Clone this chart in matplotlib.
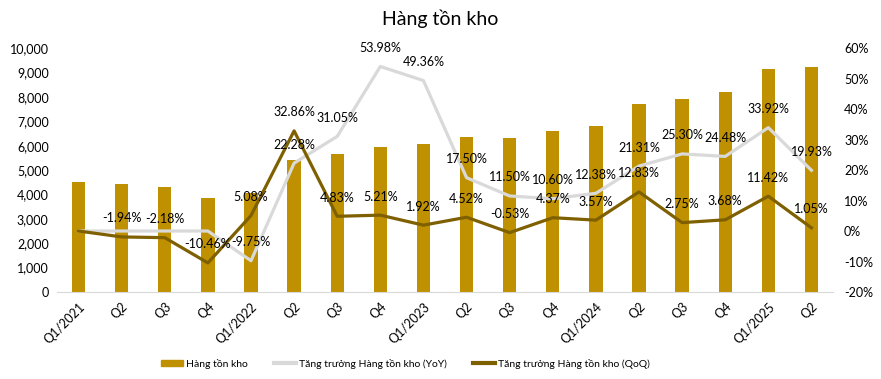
import matplotlib
matplotlib.use("Agg")
import matplotlib.pyplot as plt
from matplotlib.patches import Patch
from matplotlib.lines import Line2D
import numpy as np

plt.rcParams['font.family'] = ['Lato', 'DejaVu Sans']

quarters = ["Q1/2021", "Q2", "Q3", "Q4", "Q1/2022", "Q2", "Q3", "Q4", "Q1/2023",
            "Q2", "Q3", "Q4", "Q1/2024", "Q2", "Q3", "Q4", "Q1/2025", "Q2"]
inventory = [4500, 4413, 4317, 3865, 4062, 5396, 5657, 5952, 6066,
             6340, 6307, 6582, 6817, 7692, 7903, 8194, 9130, 9226]
# YoY growth (%) - first four quarters have no data, shown at 0 without labels
yoy = [0, 0, 0, 0, -9.75, 22.28, 31.05, 53.98, 49.36,
       17.50, 11.50, 10.60, 12.38, 21.31, 25.30, 24.48, 33.92, 19.93]
yoy_has_label = [False] * 4 + [True] * 14
# QoQ growth (%)
qoq = [0, -1.94, -2.18, -10.46, 5.08, 32.86, 4.83, 5.21, 1.92,
       4.52, -0.53, 4.37, 3.57, 12.83, 2.75, 3.68, 11.42, 1.05]
qoq_has_label = [False] + [True] * 17

bar_color = '#BF9000'
yoy_color = '#D9D9D9'
qoq_color = '#7F6000'

fig = plt.figure(figsize=(8.81, 3.79), dpi=100)
ax = fig.add_axes([0.0647, 0.2296, 0.8808, 0.6434])
ax2 = ax.twinx()

x = np.arange(len(quarters))
ax.bar(x, inventory, width=0.31, color=bar_color, zorder=2)
ax.set_ylim(0, 10000)
ax.set_yticks(range(0, 10001, 1000))
ax.set_yticklabels([f"{v:,}" for v in range(0, 10001, 1000)])
ax.set_xlim(-0.5, len(quarters) - 0.5)
ax.set_xticks(x)
ax.set_xticklabels(quarters, rotation=45, ha='right', rotation_mode='anchor')

ax2.plot(x, yoy, color=yoy_color, lw=2.3, zorder=3)
ax2.plot(x, qoq, color=qoq_color, lw=2.3, zorder=4)
ax2.set_ylim(-20, 60)
ax2.set_yticks(range(-20, 61, 10))
ax2.set_yticklabels([f"{v}%" for v in range(-20, 61, 10)])

for i in range(len(x)):
    if yoy_has_label[i]:
        ax2.annotate(f"{yoy[i]:.2f}%", (x[i], yoy[i]), xytext=(0, 9),
                     textcoords='offset points', ha='center', va='bottom',
                     fontsize=9, color='#000000', zorder=5)
    if qoq_has_label[i]:
        ax2.annotate(f"{qoq[i]:.2f}%", (x[i], qoq[i]), xytext=(0, 9),
                     textcoords='offset points', ha='center', va='bottom',
                     fontsize=9, color='#000000', zorder=5)

for a in (ax, ax2):
    for s in ('top', 'left', 'right'):
        a.spines[s].set_visible(False)
    a.tick_params(length=0, labelsize=9, colors='#000000')
ax.spines['bottom'].set_color('#D9D9D9')
ax2.spines['bottom'].set_visible(False)
ax.tick_params(axis='x', pad=6)
ax.tick_params(axis='y', pad=6)
ax2.tick_params(axis='y', pad=8)

fig.suptitle("Hàng tồn kho", y=0.975, fontsize=14)

handles = [Patch(color=bar_color),
           Line2D([], [], color=yoy_color, lw=3),
           Line2D([], [], color=qoq_color, lw=3)]
labels = ["Hàng tồn kho", "Tăng trưởng Hàng tồn kho (YoY)", "Tăng trưởng Hàng tồn kho (QoQ)"]
fig.legend(handles, labels, loc='center', bbox_to_anchor=(0.46, 0.04), ncol=3,
           frameon=False, fontsize=7.5, handlelength=2.1, handleheight=0.6,
           columnspacing=2.5, handletextpad=0.3)

fig.savefig("out.png", dpi=100)
